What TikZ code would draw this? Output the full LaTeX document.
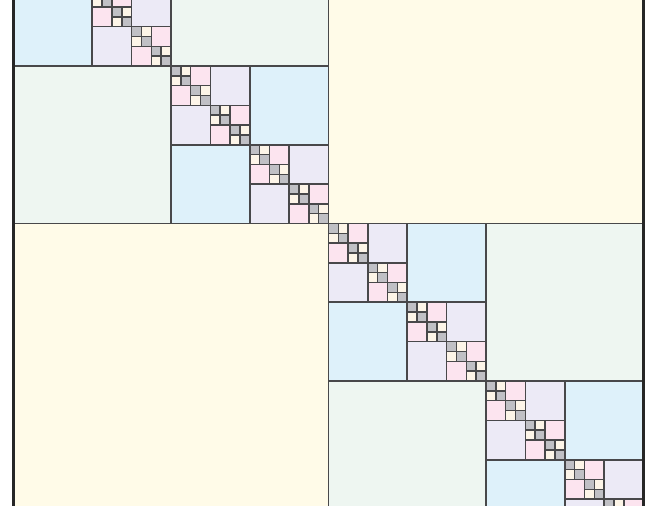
\documentclass[tikz,border=0pt]{standalone}
\usepackage{tikz}
\definecolor{lvlone}{RGB}{255,251,232}
\definecolor{lvltwo}{RGB}{238,246,241}
\definecolor{lvlthree}{RGB}{222,241,250}
\definecolor{lvlfour}{RGB}{236,234,246}
\definecolor{lvlfive}{RGB}{252,228,239}
\definecolor{lvlsix}{RGB}{253,245,232}
\definecolor{densegrey}{RGB}{192,192,197}
\definecolor{edgegrey}{RGB}{72,72,74}

\begin{document}
\begin{tikzpicture}[x=0.75pt, y=-0.75pt,
    blk/.style={draw=edgegrey, line width=1.15pt},
    frame/.style={draw=black!85, line width=2.8pt}
]
\useasboundingbox (0,0) rectangle (651,506);
\clip (0,0) rectangle (651,506);
\begin{scope}[shift={(13.5,-91.5)}]
% off-diagonal blocks, one colour per level
\foreach \lvl/\col in {1/lvlone,2/lvltwo,3/lvlthree,4/lvlfour,5/lvlfive,6/lvlsix}{
    \pgfmathsetmacro{\sz}{630/2^\lvl}
    \pgfmathtruncatemacro{\last}{2^(\lvl-1)-1}
    \foreach \i in {0,...,\last}{
        \pgfmathsetmacro{\off}{2*\i*\sz}
        \draw[blk, fill=\col] (\off+\sz,\off) rectangle ++(\sz,\sz);
        \draw[blk, fill=\col] (\off,\off+\sz) rectangle ++(\sz,\sz);
    }
}
% dense diagonal leaves
\def\leaf{9.84375}
\foreach \j in {0,...,63}
    \draw[blk, fill=densegrey] ({\j*\leaf},{\j*\leaf}) rectangle ++(\leaf,\leaf);
\draw[frame] (0,0) rectangle (630,630);
\end{scope}
\end{tikzpicture}
\end{document}
